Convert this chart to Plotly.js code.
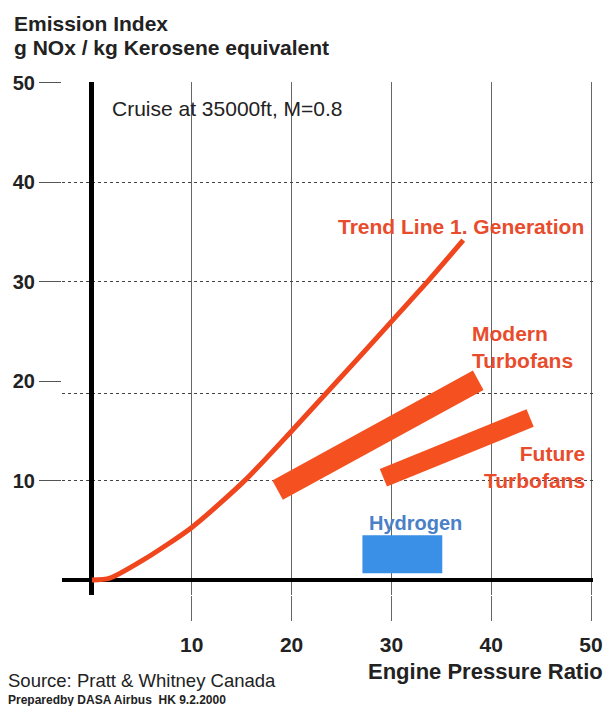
<!DOCTYPE html>
<html>
<head>
<meta charset="utf-8">
<script src="https://cdn.plot.ly/plotly-3.0.1.min.js"></script>
<style>
  html, body { margin: 0; padding: 0; background: #fff; }
  #chart { width: 609px; height: 706px; }
</style>
</head>
<body>
<div id="chart"></div>
<script>
// ---- data ----
const trendX = [0, 1.8, 5.1, 10.0, 15.3, 20.1, 33.6, 37.2];
const trendY = [0, 0.2, 2.0, 5.3, 10.0, 15.1, 30.0, 34.2];

const modernX = [18.6, 38.7];
const modernY = [9.05, 20.1];

const futureX = [29.2, 43.9];
const futureY = [10.3, 16.3];

const hydrogenX = [27.1, 35.1, 35.1, 27.1, 27.1];
const hydrogenY = [0.7, 0.7, 4.5, 4.5, 0.7];

const xTickVals = [10, 20, 30, 40, 50];
const xTickText = ['10', '20', '30', '40', '50'];
const yTickVals = [10, 20, 30, 40, 50];
const yTickText = ['10', '20', '30', '40', '50'];
const yGridVals = [10, 18.8, 30, 40, 50];

// ---- layout helpers ----
const L = 62, R = 16, T = 82, B = 111, W = 609, H = 706;
const pw = W - L - R, ph = H - T - B;
const px = v => (v - L) / pw;
const py = v => (T + ph - v) / ph;

const FONT = 'Liberation Sans, Arial, sans-serif';
const RED_LINE = '#f0461e';
const RED_TXT = '#e84c2c';

const traces = [
  { x: [0], y: [0], yaxis: 'y2', type: 'scatter', mode: 'markers',
    marker: { opacity: 0 }, hoverinfo: 'skip' },
  {
    x: hydrogenX, y: hydrogenY, type: 'scatter', mode: 'lines',
    fill: 'toself', fillcolor: '#3a8fe6', line: { width: 0, color: '#3a8fe6' },
    hoverinfo: 'skip'
  },
  {
    x: modernX, y: modernY, type: 'scatter', mode: 'lines',
    line: { color: '#f5501f', width: 22 }, hoverinfo: 'skip'
  },
  {
    x: futureX, y: futureY, type: 'scatter', mode: 'lines',
    line: { color: '#f5501f', width: 19 }, hoverinfo: 'skip'
  },
  {
    x: trendX, y: trendY, type: 'scatter', mode: 'lines',
    line: { color: RED_LINE, width: 5, shape: 'spline', smoothing: 0.7 }, hoverinfo: 'skip'
  }
];

const ann = (text, x, y, xanchor, size, color, bold, align) => ({
  text, xref: 'paper', yref: 'paper', x: px(x), y: py(y),
  xanchor, yanchor: 'middle', showarrow: false, align: align || xanchor,
  font: { family: FONT, size, color, weight: bold ? 'bold' : 'normal' }
});

const layout = {
  width: W, height: H,
  margin: { l: L, r: R, t: T, b: B, pad: 0 },
  paper_bgcolor: '#ffffff', plot_bgcolor: '#ffffff',
  showlegend: false, hovermode: false,
  font: { family: FONT, color: '#222' },
  xaxis: {
    range: [-3, 50.2], tickvals: xTickVals, ticktext: xTickText,
    showgrid: true, gridcolor: '#666', gridwidth: 1, griddash: 'solid',
    zeroline: true, zerolinecolor: '#000', zerolinewidth: 5,
    ticks: 'outside', ticklen: 25, tickcolor: '#666', tickwidth: 1,
    showline: false, ticklabelstandoff: 6,
    tickfont: { family: FONT, size: 21, color: '#222', weight: 'bold' },
    fixedrange: true
  },
  yaxis: {
    range: [-1.5, 50.1], tickvals: yTickVals, ticktext: yTickText,
    showgrid: false,
    zeroline: true, zerolinecolor: '#000', zerolinewidth: 4,
    ticks: 'outside', ticklen: 22, tickcolor: '#555', tickwidth: 1,
    showline: false,
    tickfont: { family: FONT, size: 20, color: '#222', weight: 'bold' },
    fixedrange: true
  },
  yaxis2: {
    overlaying: 'y', side: 'left', range: [-1.5, 50.1],
    tickvals: yGridVals, showticklabels: false, ticks: '',
    showgrid: true, gridcolor: '#444', gridwidth: 1, griddash: 'dot',
    zeroline: false, showline: false, fixedrange: true
  },
  annotations: [
    ann('Emission Index', 12, 23, 'left', 21, '#222', true),
    ann('g NOx / kg Kerosene equivalent', 12, 47, 'left', 21, '#222', true),
    ann('Cruise at 35000ft, M=0.8', 110, 108, 'left', 21, '#222', false),
    ann('Engine Pressure Ratio', 605, 671, 'right', 22, '#222', true),
    ann('Source: Pratt &amp; Whitney Canada', 6, 681, 'left', 18.5, '#222', false),
    ann('Preparedby DASA Airbus  HK 9.2.2000', 6, 700, 'left', 12, '#222', true),
    ann('Trend Line 1. Generation', 586, 226, 'right', 21, RED_TXT, true),
    ann('Modern<br>Turbofans', 470, 347, 'left', 21, RED_TXT, true),
    ann('Future<br>Turbofans', 587, 467, 'right', 21, RED_TXT, true),
    ann('Hydrogen', 367, 523, 'left', 20, '#4a80c8', true)
  ]
};

Plotly.newPlot('chart', traces, layout, { displayModeBar: false, staticPlot: true });
</script>
</body>
</html>
